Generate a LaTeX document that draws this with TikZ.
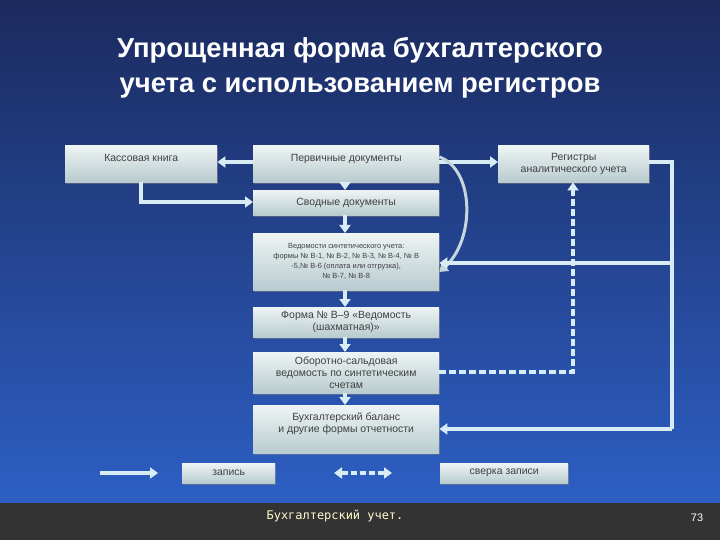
\documentclass[tikz,border=0pt]{standalone}
\usepackage{fontspec}
\setmainfont{Liberation Sans}
\newfontfamily\footfont{DejaVu Sans Mono}
\usetikzlibrary{arrows.meta,shadows}
\definecolor{arr}{HTML}{D8ECF5}
\definecolor{bgtop}{HTML}{1B2A5E}
\definecolor{bgbot}{HTML}{2D5FC4}
\definecolor{boxtop}{HTML}{EEF4F4}
\definecolor{boxbot}{HTML}{B8CBCF}
\tikzset{
 bx/.style={draw=none,top color=boxtop,bottom color=boxbot,drop shadow={opacity=0.5,shadow xshift=1bp,shadow yshift=-2bp},inner sep=1bp,align=center,font=\fontsize{10.5}{12}\selectfont,text=black!75},
 ar/.style={draw=arr,line width=3.5bp,-{Triangle[length=8bp,width=11bp]}},
 da/.style={ar,dash pattern=on 7bp off 3bp},
}
\begin{document}
\begin{tikzpicture}[x=1bp,y=-1bp]
\shade[top color=bgtop,bottom color=bgbot] (0,0) rectangle (720,505);
\fill[black!80] (0,503) rectangle (720,540);
\path[use as bounding box] (0,0) rectangle (720,540);
\node[text=white,font=\bfseries\fontsize{27.5}{35}\selectfont,align=center] (title) at (360,68) {Упрощенная форма бухгалтерского\\учета с использованием регистров};
% boxes
\node[bx,minimum width=152bp,minimum height=37bp,anchor=north west,text depth=12bp] (kas) at (65,145) {Кассовая книга};
\node[bx,minimum width=186bp,minimum height=37bp,anchor=north west,text depth=12bp] (perv) at (253,145) {Первичные документы};
\node[bx,minimum width=151bp,minimum height=37bp,anchor=north west] (reg) at (498,145) {Регистры\\аналитического учета};
\node[bx,minimum width=186bp,minimum height=25bp,anchor=north west] (svod) at (253,190) {Сводные документы};
\node[bx,minimum width=186bp,minimum height=57bp,anchor=north west,font=\fontsize{7.5}{10}\selectfont] (ved) at (253,233) {Ведомости синтетического учета:\\формы № В-1, № В-2, № В-3, № В-4, № В\\-5,№ В-6 (оплата или отгрузка),\\№ В-7, № В-8};
\node[bx,minimum width=186bp,minimum height=30bp,anchor=north west] (f9) at (253,307) {Форма № В--9 «Ведомость\\(шахматная)»};
\node[bx,minimum width=186bp,minimum height=41bp,anchor=north west] (obo) at (253,352) {Оборотно-сальдовая\\ведомость по синтетическим\\счетам};
\node[bx,minimum width=186bp,minimum height=48bp,anchor=north west,text depth=14bp] (bal) at (253,405) {Бухгалтерский баланс\\и другие формы отчетности};
\node[bx,minimum width=93bp,minimum height=20bp,anchor=north west] (zap) at (182,463) {запись};
\node[bx,minimum width=128bp,minimum height=20bp,anchor=north west] (sver) at (440,463) {сверка записи};
% connectors
\draw[ar] (perv.west|-0,162) -- (kas.east|-0,162);
\draw[ar] (perv.east|-0,162) -- (reg.west|-0,162);
\draw[ar] (kas.south-|141,0) -- (141,202) -- (svod.west|-0,202);
\draw[ar] (perv.south-|345,0) -- (svod.north-|345,0);
\draw[ar] (svod.south-|345,0) -- (ved.north-|345,0);
\draw[ar] (ved.south-|345,0) -- (f9.north-|345,0);
\draw[ar] (f9.south-|345,0) -- (obo.north-|345,0);
\draw[ar] (obo.south-|345,0) -- (bal.north-|345,0);
\draw[draw=arr!80!gray,line width=3bp,-{Triangle[length=8bp,width=11bp]}] (perv.east|-0,157) .. controls (475,170) and (475,240) .. (ved.east|-0,272);
\coordinate (r1) at (672,162);
\coordinate (r2) at (672,263);
\coordinate (r3) at (672,429);
\draw[draw=arr,line width=3.5bp] (reg.east|-0,162) -- (r1) -- (r3);
\draw[ar] (r2) -- (ved.east|-0,263);
\draw[ar] (r3) -- (bal.east|-0,429);
\coordinate (d1) at (573,372);
\draw[da] (obo.east|-0,372) -- (d1) -- (reg.south-|573,0);
% legend
\coordinate (l1) at (100,473); \coordinate (l2) at (158,473);
\draw[ar] (l1) -- (l2);
\coordinate (l3) at (334,473); \coordinate (l4) at (392,473);
\draw[da,{Triangle[length=8bp,width=11bp]}-{Triangle[length=8bp,width=11bp]},dash pattern=on 6bp off 3bp] (l3) -- (l4);
% footer
\node[text=yellow!20!white,font=\footfont\fontsize{12}{14}\selectfont] (foot) at (335,516) {Бухгалтерский учет.};
\node[text=white,font=\fontsize{11}{13}\selectfont] (pg) at (697,518) {73};
\end{tikzpicture}
\end{document}
